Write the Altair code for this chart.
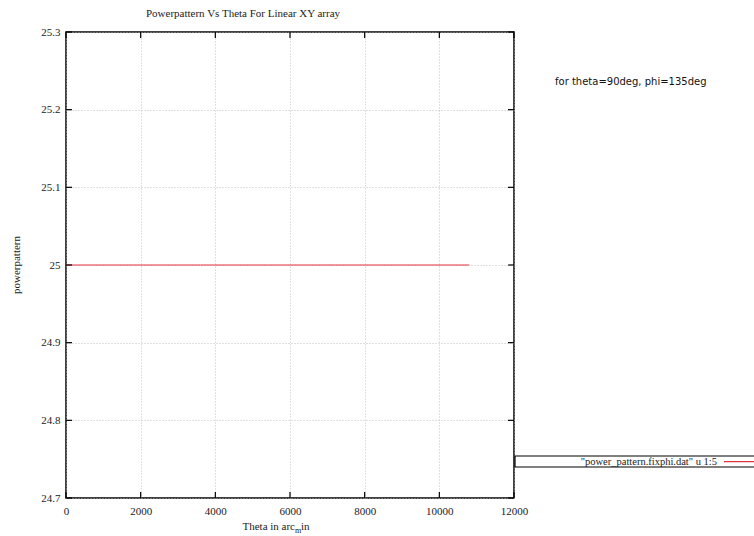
import altair as alt
import pandas as pd

# power pattern samples (theta in arc-minutes, pattern value)
theta_arcmin = [0, 1800, 3600, 5400, 7200, 9000, 10800]
power_values = [25, 25, 25, 25, 25, 25, 25]

x_ticks = [0, 2000, 4000, 6000, 8000, 10000, 12000]
y_ticks = [24.7, 24.8, 24.9, 25.0, 25.1, 25.2, 25.3]

W, H = 448, 466
SERIF = "Liberation Serif"
RED = "#e2323f"

df = pd.DataFrame({"theta": theta_arcmin, "power": power_values})
xt = pd.DataFrame({"v": x_ticks})
yt = pd.DataFrame({"v": y_ticks})

xs = alt.Scale(domain=[0, 12000], nice=False, zero=False)
ys = alt.Scale(domain=[24.7, 25.3], nice=False, zero=False)

x_axis = alt.Axis(values=x_ticks, grid=True, gridDash=[1, 2], gridColor="#b4b4b4",
                  gridWidth=0.8, ticks=False, domain=False, labelFont=SERIF,
                  labelFontSize=11, labelColor="#222", labelPadding=7, title=None,
                  format="d", labelFlush=False)
y_axis = alt.Axis(values=y_ticks, grid=True, gridDash=[1, 2], gridColor="#b4b4b4",
                  gridWidth=0.8, ticks=False, domain=False, labelFont=SERIF,
                  labelFontSize=11, labelColor="#222", labelPadding=6, title=None,
                  labelExpr="datum.value == 25 ? '25' : format(datum.value, '.1f')")

line = alt.Chart(df).mark_line(stroke=RED, strokeWidth=1).encode(
    x=alt.X("theta:Q", scale=xs, axis=x_axis),
    y=alt.Y("power:Q", scale=ys, axis=y_axis),
)

# inward tick marks on all four sides
tick_bottom = alt.Chart(xt).mark_rule(color="black", strokeWidth=1.2).encode(
    x=alt.X("v:Q", scale=xs), y=alt.value(H), y2=alt.value(H - 6))
tick_top = alt.Chart(xt).mark_rule(color="black", strokeWidth=1.2).encode(
    x=alt.X("v:Q", scale=xs), y=alt.value(0), y2=alt.value(6))
tick_left = alt.Chart(yt).mark_rule(color="black", strokeWidth=1.2).encode(
    y=alt.Y("v:Q", scale=ys), x=alt.value(0), x2=alt.value(6))
tick_right = alt.Chart(yt).mark_rule(color="black", strokeWidth=1.2).encode(
    y=alt.Y("v:Q", scale=ys), x=alt.value(W), x2=alt.value(W - 6))

def label(text, x, y, size=11, font=SERIF, align="center", angle=0, color="#222"):
    kw = dict(text=text, font=font, fontSize=size, align=align, baseline="middle",
              color=color)
    if angle:
        kw["angle"] = angle
    return alt.Chart(pd.DataFrame({"t": [text]})).mark_text(**kw).encode(
        x=alt.value(x), y=alt.value(y))

title = label("Powerpattern Vs Theta For Linear XY array", 177, -18)
ylab = label("powerpattern", -49, 233, angle=270)
# x title with subscript "m"
xlab1 = label("Theta in arc", 229, 495, align="right")
xlab2 = label("m", 229, 499, size=8, align="left")
xlab3 = label("in", 235, 495, align="left")

note = label("for theta=90deg,  phi=135deg", 489, 50, size=10,
             font="DejaVu Sans", align="left", color="#111")

# key box below the right side
key_box = alt.Chart(pd.DataFrame({"k": [1]})).mark_rect(
    fill="white", stroke="black", strokeWidth=1.2).encode(
    x=alt.value(W + 1), x2=alt.value(W + 250), y=alt.value(424), y2=alt.value(435))
key_text = label("\"power_pattern.fixphi.dat\" u 1:5", 651, 429.5, size=10.5, align="right")
key_sample = alt.Chart(pd.DataFrame({"k": [1]})).mark_rect(
    fill=RED, stroke=None, strokeWidth=0).encode(
    x=alt.value(658), x2=alt.value(700), y=alt.value(429), y2=alt.value(430.2))

chart = alt.layer(
    line, tick_bottom, tick_top, tick_left, tick_right,
    title, ylab, xlab1, xlab2, xlab3, note, key_box, key_text, key_sample,
).properties(
    width=W, height=H,
    autosize=alt.AutoSizeParams(type="none"),
    padding={"left": 66, "top": 32, "right": 240, "bottom": 38},
    background="white",
).configure_view(stroke="black", strokeWidth=1.5)

chart.save("out.html", embed_options={"renderer": "svg", "actions": False})
